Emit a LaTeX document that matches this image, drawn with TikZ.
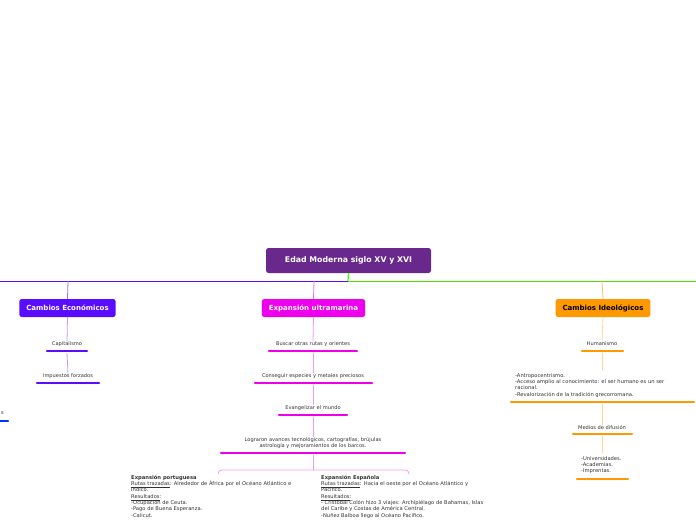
\documentclass[tikz,border=0pt]{standalone}
\usepackage{fontspec}
\setmainfont{DejaVu Sans}
\definecolor{cRoot}{HTML}{68288C}
\definecolor{cEco}{HTML}{5A0CFF}
\definecolor{cExp}{HTML}{EE00EE}
\definecolor{cIde}{HTML}{FF9900}
\definecolor{cTxt}{HTML}{333333}
\begin{document}
\begin{tikzpicture}[x=1pt,y=-1pt,
  main/.style={rounded corners=2.5pt,minimum height=18pt,inner xsep=7pt,font=\fontsize{7}{8}\selectfont\bfseries,text=white},
  sub/.style={font=\fontsize{5.1}{6}\selectfont,text=cTxt,align=center,inner sep=0pt},
  blk/.style={font=\fontsize{5.2}{6.3}\selectfont,text=cTxt,align=left,inner sep=0pt,anchor=north west},
  bar/.style={line width=2.4pt,line cap=round},
  link/.style={line width=0.8pt}]
\useasboundingbox (0,0) rectangle (696,520);
% root
\node[main,fill=cRoot,minimum width=165pt,minimum height=25pt,font=\fontsize{7.8}{8}\selectfont\bfseries] (root) at (348.5,260.5) {Edad Moderna siglo XV y XVI};
\coordinate (hl) at (0,281); \coordinate (hm) at (348,281); \coordinate (hr) at (696,281);
\draw[cEco,line width=0.7pt] (hl) -- (hm);
\draw[green!80!black!60!lime,line width=0.8pt] (hm) -- (hr);
\draw[green!70!lime,line width=1.2pt] (root.south) -- (hm);
% main boxes
\node[main,fill=cEco] (eco) at (67.5,308) {Cambios Económicos};
\node[main,fill=cExp] (exp) at (313.5,308) {Expansión ultramarina};
\node[main,fill=cIde,text=black] (ide) at (603,308) {Cambios Ideológicos};
\coordinate (eT) at (68,281); \coordinate (xT) at (314,281); \coordinate (iT) at (602,281);
\draw[cEco!60,link] (eT) -- (eco.north);
\draw[cExp!60,link] (xT) -- (exp.north);
\draw[cIde!60,link] (iT) -- (ide.north);
% economic
\node[sub] (cap) at (67,344) {Capitalismo};
\draw[bar,cEco] (47,351) -- (87,351);
\node[sub] (imp) at (68,376) {Impuestos forzados};
\draw[bar,cEco] (37,383) -- (99,383);
\draw[cEco!40,link] (eco.south) -- (cap.north);
\draw[cEco!40,link] (67,353) -- (imp.north);
\node[sub,anchor=east] (s) at (4,413) {s};
\draw[bar,blue!80!cyan] (0,421) -- (8,421);
% expansion
\node[sub] (b1) at (313,344) {Buscar otras rutas y orientes};
\draw[bar,cExp] (269,351) -- (357,351);
\node[sub] (b2) at (313,376) {Conseguir especies y metales preciosos};
\draw[bar,cExp] (255,383) -- (372,383);
\node[sub] (b3) at (313,408) {Evangelizar el mundo};
\draw[bar,cExp] (279,415) -- (347,415);
\node[sub] (b4) at (313,443) {Lograron avances tecnológicos, cartografías, brújulas\\astrología y mejoramientos de los barcos.};
\draw[bar,cExp] (221,453) -- (405,453);
\draw[cExp!40,link] (exp.south) -- (b1.north);
\draw[cExp!40,link] (313,353) -- (b2.north);
\draw[cExp!40,link] (313,385) -- (b3.north);
\draw[cExp!40,link] (313,417) -- (b4.north);
\coordinate (br) at (313,470);
\draw[cExp!40,link] (313,455) -- (br);
\draw[cExp!40,link] (218,474) .. controls (219,470) .. (226,470) -- (401,470) .. controls (408,470) .. (409,474);
\node[blk] (pt) at (131,475) {\textbf{Expansión portuguesa}\\\underline{Rutas trazadas}: Alrededor de África por el Océano Atlántico e\\Indico.\\\underline{Resultados}:\\-Ocupación de Ceuta.\\-Pago de Buena Esperanza.\\-Calicut.};
\node[blk] (es) at (321,475) {\textbf{Expansión Española}\\\underline{Rutas trazadas}: Hacia el oeste por el Océano Atlántico y\\Pacifico.\\\underline{Resultados}:\\- Cristóbal Colón hizo 3 viajes: Archipiélago de Bahamas, Islas\\del Caribe y Costas de América Central.\\-Nuñez Balboa llego al Océano Pacifico.};
% ideological
\node[sub] (hu) at (602,344) {Humanismo};
\draw[bar,cIde] (582,351) -- (623,351);
\node[blk] (ant) at (515,373) {-Antropocentrismo.\\-Acceso amplio al conocimiento: el ser humano es un ser\\racional.\\-Revalorización de la tradición grecorromana.};
\draw[bar,cIde] (511,402) -- (694,402);
\node[sub] (me) at (602,427) {Medios de difusión};
\draw[bar,cIde] (573,434) -- (632,434);
\node[blk] (un) at (581,456) {-Universidades.\\-Academias.\\-Imprentas.};
\draw[bar,cIde] (577,479) -- (628,479);
\draw[cIde!40,link] (ide.south) -- (hu.north);
\draw[cIde!40,link] (602,353) -- (602,370);
\draw[cIde!40,link] (602,404) -- (me.north);
\draw[cIde!40,link] (602,436) -- (602,453);
\end{tikzpicture}
\end{document}
